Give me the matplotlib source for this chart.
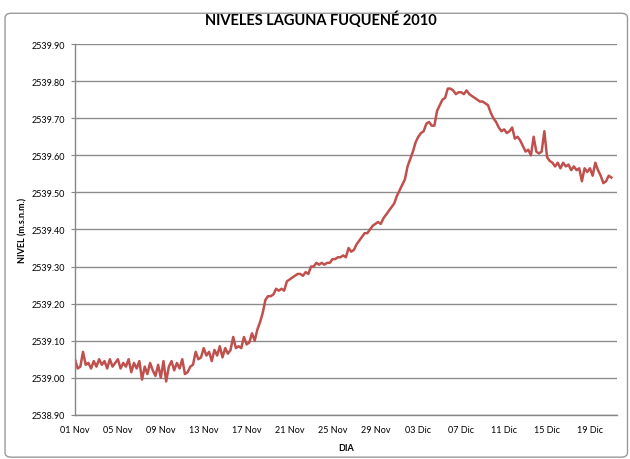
import matplotlib
matplotlib.use("Agg")
import matplotlib.pyplot as plt
from matplotlib.patches import FancyBboxPatch
import numpy as np

plt.rcParams['font.family'] = ['Lato', 'DejaVu Sans']

# niveles cada 6 horas desde 01 Nov 2010 00:00 (m.s.n.m.)
nivel = [
    2539.050, 2539.025, 2539.030, 2539.070,  # 01 Nov
    2539.035, 2539.040, 2539.025, 2539.045,
    2539.030, 2539.050, 2539.035, 2539.045,
    2539.025, 2539.050, 2539.030, 2539.040,
    2539.050, 2539.025, 2539.040, 2539.030,  # 05 Nov
    2539.050, 2539.015, 2539.040, 2539.025,
    2539.045, 2538.995, 2539.030, 2539.010,
    2539.040, 2539.020, 2539.005, 2539.035,
    2539.000, 2539.045, 2538.990, 2539.030,  # 09 Nov
    2539.045, 2539.020, 2539.040, 2539.025,
    2539.050, 2539.010, 2539.015, 2539.030,
    2539.035, 2539.070, 2539.050, 2539.055,
    2539.080, 2539.060, 2539.070, 2539.045,  # 13 Nov
    2539.075, 2539.060, 2539.085, 2539.055,
    2539.080, 2539.065, 2539.075, 2539.110,
    2539.080, 2539.085, 2539.080, 2539.110,
    2539.090, 2539.095, 2539.120, 2539.100,  # 17 Nov
    2539.130, 2539.150, 2539.175, 2539.210,
    2539.220, 2539.220, 2539.225, 2539.240,
    2539.235, 2539.240, 2539.235, 2539.260,
    2539.265, 2539.270, 2539.275, 2539.280,  # 21 Nov
    2539.280, 2539.275, 2539.285, 2539.280,
    2539.300, 2539.300, 2539.310, 2539.305,
    2539.310, 2539.305, 2539.310, 2539.310,
    2539.320, 2539.320, 2539.325, 2539.325,  # 25 Nov
    2539.330, 2539.325, 2539.350, 2539.340,
    2539.345, 2539.360, 2539.370, 2539.380,
    2539.390, 2539.390, 2539.400, 2539.410,
    2539.415, 2539.420, 2539.415, 2539.430,  # 29 Nov
    2539.440, 2539.450, 2539.460, 2539.470,
    2539.490, 2539.505, 2539.520, 2539.535,
    2539.570, 2539.590, 2539.610, 2539.635,
    2539.650, 2539.660, 2539.665, 2539.685,  # 03 Dic
    2539.690, 2539.680, 2539.680, 2539.720,
    2539.735, 2539.750, 2539.755, 2539.780,
    2539.780, 2539.775, 2539.765, 2539.770,
    2539.770, 2539.765, 2539.775, 2539.765,  # 07 Dic
    2539.760, 2539.755, 2539.750, 2539.745,
    2539.745, 2539.740, 2539.735, 2539.715,
    2539.700, 2539.690, 2539.675, 2539.665,
    2539.670, 2539.660, 2539.665, 2539.675,  # 11 Dic
    2539.645, 2539.650, 2539.640, 2539.625,
    2539.610, 2539.615, 2539.600, 2539.650,
    2539.610, 2539.605, 2539.610, 2539.665,
    2539.595, 2539.585, 2539.580, 2539.570,  # 15 Dic
    2539.580, 2539.565, 2539.580, 2539.570,
    2539.575, 2539.560, 2539.570, 2539.560,
    2539.565, 2539.530, 2539.565, 2539.555,
    2539.565, 2539.545, 2539.580, 2539.560,  # 19 Dic
    2539.545, 2539.525, 2539.530, 2539.545,
    2539.540,
]
dias = np.arange(len(nivel)) * 0.25

tick_dias = [0, 4, 8, 12, 16, 20, 24, 28, 32, 36, 40, 44, 48]
tick_labels = ['01 Nov', '05 Nov', '09 Nov', '13 Nov', '17 Nov', '21 Nov', '25 Nov',
               '29 Nov', '03 Dic', '07 Dic', '11 Dic', '15 Dic', '19 Dic']

fig = plt.figure(figsize=(6.3, 4.6), dpi=100)
ax = fig.add_axes([0.119, 0.096, 0.860, 0.806])

ax.plot(dias, nivel, color='#C0504D', lw=1.8)

ax.set_xlim(0, 50.5)
ax.set_ylim(2538.90, 2539.90)
ax.set_yticks(np.arange(2538.90, 2539.91, 0.10))
ax.set_yticklabels(['%.2f' % v for v in np.arange(2538.90, 2539.91, 0.10)])
ax.set_xticks(tick_dias)
ax.set_xticklabels(tick_labels)
ax.tick_params(axis='both', labelsize=6.5, length=3, color='#868686', colors='#000000')
ax.tick_params(axis='x', length=0, pad=7)
ax.tick_params(axis='y', pad=4)

ax.grid(axis='y', color='#8C8C8C', lw=1)
ax.set_axisbelow(True)
for s in ['top', 'right']:
    ax.spines[s].set_visible(False)
for s in ['left', 'bottom']:
    ax.spines[s].set_color('#868686')
    ax.spines[s].set_linewidth(1)

ax.set_xlabel('DIA', fontsize=6.5, fontweight='bold', labelpad=7)
ax.set_ylabel('NIVEL (m.s.n.m.)', fontsize=6.5, fontweight='bold', labelpad=3)
fig.suptitle('NIVELES LAGUNA FUQUENÉ 2010', fontsize=10.5, fontweight='bold', x=0.51, y=0.975)

# marco del grafico
fig.patches.append(FancyBboxPatch((0.008, 0.004), 0.988, 0.965, boxstyle='round,pad=0,rounding_size=0.01',
                                  transform=fig.transFigure, fill=False, edgecolor='#9A9A9A', lw=1))

fig.savefig('out.png', dpi=100)
